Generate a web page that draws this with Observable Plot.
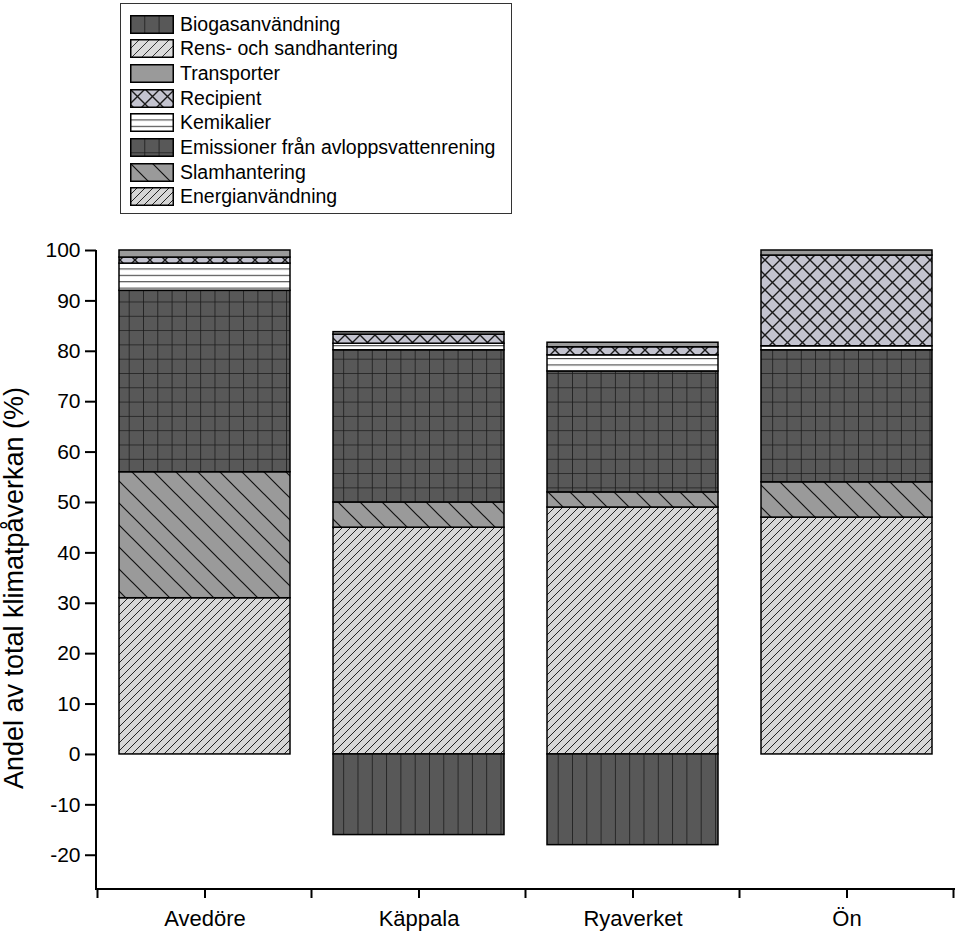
<!DOCTYPE html>
<html>
<head>
<meta charset="utf-8">
<script src="https://cdn.jsdelivr.net/npm/d3@7"></script>
<script src="https://cdn.jsdelivr.net/npm/@observablehq/plot@0.6"></script>
<style>
  body { margin: 0; background: #fff; font-family: "Liberation Sans", Arial, sans-serif; }
  #wrap { position: relative; width: 960px; height: 931px; overflow: hidden; }
  #legend { position: absolute; left: 120px; top: 3px; width: 392px; height: 211px; border: 1px solid #333; box-sizing: border-box; background: #fff; }
  .row { position: absolute; left: 9px; height: 19px; display: flex; align-items: center; }
  .row svg { width: 44px; height: 19px; margin-right: 6px; flex: none; }
  .row span { font-size: 19.5px; line-height: 19px; color: #000; white-space: nowrap; }
  #chart { position: absolute; left: 0; top: 230px; }
</style>
</head>
<body>
<svg width="0" height="0" style="position:absolute">
  <defs>
    <pattern id="p-biogas" patternUnits="userSpaceOnUse" width="14.3" height="14.3">
      <rect width="14.3" height="14.3" fill="#585858"/>
      <path d="M0,0 V14.3" stroke="#1a1a1a" stroke-width="1.6"/>
    </pattern>
    <pattern id="p-rens" patternUnits="userSpaceOnUse" width="10" height="10">
      <rect width="10" height="10" fill="#dcdcdc"/>
      <path d="M-2,2 L2,-2 M0,10 L10,0 M8,12 L12,8" stroke="#333" stroke-width="1"/>
    </pattern>
    <pattern id="p-transport" patternUnits="userSpaceOnUse" width="10" height="10">
      <rect width="10" height="10" fill="#9a9a9a"/>
    </pattern>
    <pattern id="p-recipient" patternUnits="userSpaceOnUse" width="15" height="15">
      <rect width="15" height="15" fill="#c3c3cf"/>
      <path d="M0,0 L15,15 M15,0 L0,15" stroke="#1a1a1a" stroke-width="1.4"/>
    </pattern>
    <pattern id="p-kemikalier" patternUnits="userSpaceOnUse" width="10" height="6.4">
      <rect width="10" height="6.4" fill="#ffffff"/>
      <path d="M0,0.5 H10" stroke="#444" stroke-width="1.2"/>
    </pattern>
    <pattern id="p-emission" patternUnits="userSpaceOnUse" width="14.3" height="14.3">
      <rect width="14.3" height="14.3" fill="#585858"/>
      <path d="M0,0 V14.3 M0,0 H14.3" stroke="#1a1a1a" stroke-width="1.6"/>
    </pattern>
    <pattern id="p-slam" patternUnits="userSpaceOnUse" width="22" height="22">
      <rect width="22" height="22" fill="#9a9a9a"/>
      <path d="M0,0 L22,22 M-11,11 L11,33 M11,-11 L33,11" stroke="#111" stroke-width="1.2"/>
    </pattern>
    <pattern id="p-energi" patternUnits="userSpaceOnUse" width="8" height="8">
      <rect width="8" height="8" fill="#d6d6d6"/>
      <path d="M-2,2 L2,-2 M0,8 L8,0 M6,10 L10,6" stroke="#222" stroke-width="1"/>
    </pattern>
  </defs>
</svg>
<div id="wrap">
  <div id="legend"></div>
  <div id="chart"></div>
</div>
<script>
// ---- Data ----
const plants = ["Avedöre", "Käppala", "Ryaverket", "Ön"];
const seriesNames = [
  "Biogasanvändning",
  "Rens- och sandhantering",
  "Transporter",
  "Recipient",
  "Kemikalier",
  "Emissioner från avloppsvattenrening",
  "Slamhantering",
  "Energianvändning"
];
// stacking order, bottom to top
const stackOrder = [
  "Energianvändning",
  "Slamhantering",
  "Emissioner från avloppsvattenrening",
  "Kemikalier",
  "Recipient",
  "Transporter",
  "Rens- och sandhantering",
  "Biogasanvändning"
];
const energianvandning = [31, 45, 49, 47];
const slamhantering = [25, 5, 3, 7];
const emissioner = [36, 30.2, 24, 26.2];
const kemikalier = [5.4, 1.3, 3.2, 0.8];
const recipient = [1.2, 1.8, 1.6, 18];
const transporter = [1.4, 0.5, 0.9, 1.0];
const rensSand = [0, 0, 0, 0];
const biogas = [0, -16, -18, 0];
const yTicks = [-20, -10, 0, 10, 20, 30, 40, 50, 60, 70, 80, 90, 100];
const yDomain = [-26.8, 100];
const yTitle = "Andel av total klimatpåverkan (%)";

const patternIds = ["p-biogas", "p-rens", "p-transport", "p-recipient", "p-kemikalier", "p-emission", "p-slam", "p-energi"];

const valuesBySeries = {
  "Biogasanvändning": biogas,
  "Rens- och sandhantering": rensSand,
  "Transporter": transporter,
  "Recipient": recipient,
  "Kemikalier": kemikalier,
  "Emissioner från avloppsvattenrening": emissioner,
  "Slamhantering": slamhantering,
  "Energianvändning": energianvandning
};

const data = [];
for (const s of stackOrder) {
  valuesBySeries[s].forEach((v, i) => {
    if (v !== 0) data.push({plant: plants[i], series: s, value: v});
  });
}

// ---- Legend ----
const legend = document.getElementById("legend");
seriesNames.forEach((name, i) => {
  const row = document.createElement("div");
  row.className = "row";
  row.style.top = (10.5 + 24.7 * i) + "px";
  row.innerHTML = `<svg viewBox="0 0 44 19"><rect x="0.75" y="0.75" width="42.5" height="17.5" fill="url(#${patternIds[i]})" stroke="#000" stroke-width="1.5"/></svg><span>${name}</span>`;
  legend.appendChild(row);
});

// ---- Chart ----
const chart = Plot.plot({
  width: 960,
  height: 701,
  marginTop: 20,
  marginBottom: 42,
  marginLeft: 96,
  marginRight: 5,
  style: {fontFamily: "'Liberation Sans', Arial, sans-serif", fontSize: "21px", color: "black", background: "white", overflow: "visible"},
  x: {domain: plants, paddingInner: 0.2, paddingOuter: 0.1, label: null},
  y: {domain: yDomain, label: yTitle},
  color: {type: "ordinal", domain: seriesNames, range: patternIds.map(id => `url(#${id})`)},
  marks: [
    Plot.barY(data, {x: "plant", y: "value", fill: "series", order: stackOrder, stroke: "black", strokeWidth: 1.5}),
    Plot.axisY({ticks: yTicks, tickSize: 11, tickPadding: 5, strokeWidth: 2, fontSize: 21, tickFormat: d => String(d),
      label: yTitle, labelAnchor: "center", labelArrow: "none", labelOffset: 93}),
    Plot.axisX({tickSize: 9, tickPadding: 12, strokeWidth: 2, fontSize: 22, label: null})
  ]
});
document.getElementById("chart").appendChild(chart);

// axis lines and minor ticks, from the scales
const sx = chart.scale("x"), sy = chart.scale("y");
const svg = d3.select(chart);
const xr = sx.range, yr = sy.range;
const yBottom = Math.max(...yr), yTop = Math.min(...yr);
const g = svg.append("g").attr("stroke", "black").attr("stroke-width", 2);
g.append("line").attr("x1", xr[0]).attr("x2", xr[0]).attr("y1", yTop).attr("y2", yBottom + 1);
g.append("line").attr("x1", xr[0] - 1).attr("x2", xr[1]).attr("y1", yBottom).attr("y2", yBottom);
const centers = plants.map(p => sx.apply(p) + sx.bandwidth / 2);
const step = centers[1] - centers[0];
for (let i = 0; i <= plants.length; i++) {
  const bx = centers[0] - step / 2 + i * step;
  g.append("line").attr("x1", bx).attr("x2", bx).attr("y1", yBottom).attr("y2", yBottom + 9);
}
// y label styling: keep Plot's own transform, nudge down
const lab = svg.select('g[aria-label="y-axis label"]');
const t0 = lab.attr("transform") || "";
lab.attr("transform", (t0 + " translate(0,18)").trim());
lab.attr("font-size", 27);
lab.selectAll("text").attr("font-size", 27);
</script>
</body>
</html>
